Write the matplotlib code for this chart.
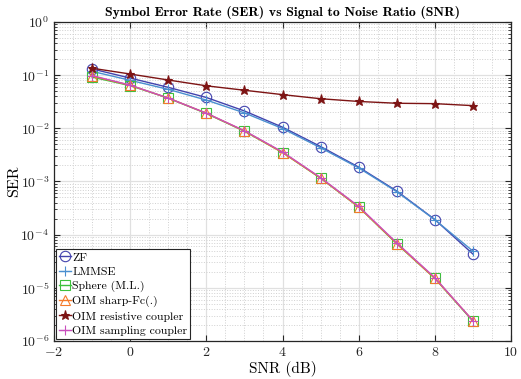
import matplotlib
matplotlib.use("Agg")
import matplotlib.pyplot as plt
import numpy as np
from matplotlib.ticker import LogLocator, NullFormatter, FixedLocator

plt.rcParams['font.family'] = ['cmr10', 'DejaVu Serif']
plt.rcParams['mathtext.fontset'] = 'cm'
plt.rcParams['axes.formatter.use_mathtext'] = True
plt.rcParams['axes.unicode_minus'] = False

snr = [-1, 0, 1, 2, 3, 4, 5, 6, 7, 8, 9]
ser_zf = [0.131, 0.088, 0.059, 0.038, 0.0212, 0.0105, 0.00454, 0.00186, 6.6e-4, 1.92e-4, 4.3e-5]
ser_lmmse = [0.118, 0.080, 0.054, 0.034, 0.0195, 0.0099, 0.0043, 0.00180, 6.4e-4, 1.90e-4, 4.9e-5]
ser_sphere = [0.092, 0.0635, 0.037, 0.019, 0.0088, 0.0035, 0.00115, 3.3e-4, 6.7e-5, 1.5e-5, 2.35e-6]
ser_sharp = [0.096, 0.0645, 0.037, 0.0192, 0.0089, 0.0035, 0.00116, 3.3e-4, 6.8e-5, 1.5e-5, 2.4e-6]
ser_resist = [0.135, 0.105, 0.081, 0.063, 0.052, 0.043, 0.036, 0.032, 0.0296, 0.0291, 0.0267]
ser_sampling = [0.098, 0.065, 0.037, 0.0193, 0.0090, 0.0036, 0.00118, 3.4e-4, 7.0e-5, 1.55e-5, 2.4e-6]
xticks = [-2, 0, 2, 4, 6, 8, 10]

fig = plt.figure(figsize=(5.21, 3.79), dpi=100)
ax = fig.add_axes([0.1036, 0.1003, 0.8774, 0.8417])

ax.semilogy(snr, ser_zf, '-o', color='#4343ad', mfc='none', ms=7.5, lw=1.0, mew=0.8, label='ZF')
ax.semilogy(snr, ser_lmmse, '-+', color='#4a8fd0', ms=7.5, lw=1.0, mew=0.8, label='LMMSE')
ax.semilogy(snr, ser_sphere, '-s', color='#3cc03c', mfc='none', ms=7.5, lw=1.0, mew=0.8, label='Sphere (M.L.)')
ax.semilogy(snr, ser_sharp, '-^', color='#f57a2a', mfc='none', ms=7.5, lw=1.0, mew=0.8, label='OIM sharp-Fc(.)')
ax.semilogy(snr, ser_resist, '-*', color='#7d1414', mfc='#7d1414', ms=6.5, lw=1.0, mew=0.8, label='OIM resistive coupler')
ax.semilogy(snr, ser_sampling, '-+', color='#c94fbd', ms=7.5, lw=1.0, mew=0.8, label='OIM sampling coupler')

ax.set_xlim(-2, 10)
ax.set_ylim(1e-6, 1)
ax.set_xticks(xticks)
ax.xaxis.set_minor_locator(FixedLocator(np.arange(-1.5, 10, 0.5)))
ax.xaxis.set_minor_formatter(NullFormatter())
ax.yaxis.set_major_locator(LogLocator(base=10, numticks=10))
ax.yaxis.set_minor_locator(LogLocator(base=10, subs=np.arange(2, 10), numticks=20))
ax.yaxis.set_minor_formatter(NullFormatter())

ax.grid(True, which='major', color='#e0e0e0', lw=0.9, ls='-')
ax.grid(True, which='minor', color='#d0d0d0', lw=0.7, ls=':')
ax.set_axisbelow(True)

ax.tick_params(which='both', direction='in', top=True, right=True, labelsize=10, colors='#262626')
ax.tick_params(which='major', length=4, width=0.8)
ax.tick_params(which='minor', length=2, width=0.6)
ax.tick_params(axis='x', which='minor', length=0)
for s in ax.spines.values():
    s.set_color('#262626')
    s.set_linewidth(0.9)

ax.set_xlabel('SNR (dB)', fontsize=11)
ax.set_ylabel('SER', fontsize=11.5)
ax.yaxis.set_label_coords(-0.072, 0.5)
ax.xaxis.set_label_coords(0.5, -0.063)
ax.set_title('Symbol Error Rate (SER) vs Signal to Noise Ratio (SNR)', fontsize=10,
             fontfamily=['cmb10', 'DejaVu Serif'], pad=4)

leg = ax.legend(loc='lower left', fontsize=8.5, handlelength=1.0, handletextpad=0.1,
                borderpad=0.25, labelspacing=0.33, borderaxespad=0.2, fancybox=False,
                framealpha=1, edgecolor='#262626')
leg.get_frame().set_linewidth(0.8)

fig.savefig('out.png', dpi=100)
